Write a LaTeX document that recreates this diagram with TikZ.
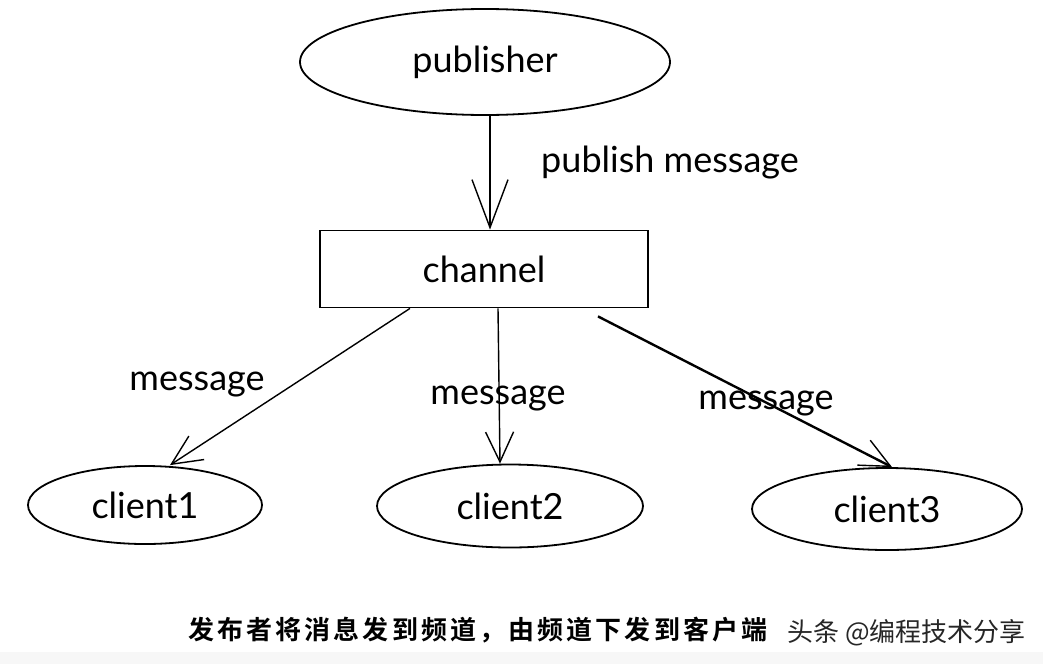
\documentclass[tikz,border=0pt]{standalone}
\usepackage{fontspec}
\setmainfont{Lato}
\newfontfamily\cjk[LetterSpace=12]{Noto Sans CJK SC Bold}
\newfontfamily\cjkmark{Noto Sans CJK SC}
\usetikzlibrary{arrows.meta,shapes.geometric,calc}
\tikzset{  blob/.style={draw,ellipse,line width=1.8pt,inner sep=0pt},
  box/.style={draw,rectangle,line width=1.8pt,inner sep=0pt},
  lbl/.style={font=\fontsize{36}{40}\selectfont},
  msg/.style={->,line width=1.4pt,>={Straight Barb[length=30pt,width=28pt]}} }
\begin{document}
\begin{tikzpicture}[x=1pt,y=-1pt]
   \useasboundingbox (0,0) rectangle (1043,664);
   \fill[gray!6] (0,652) rectangle (1043,664);
   \node[blob,lbl,minimum width=370pt,minimum height=106pt] (pub) at (485,62) {publisher};
   \node[box,lbl,minimum width=328pt,minimum height=77pt] (chan) at (484,269) {channel};
   \node[blob,lbl,minimum width=234pt,minimum height=78pt] (cA) at (145,505) {client1};
   \node[blob,lbl,minimum width=266pt,minimum height=83pt] (cB) at (510,506) {client2};
   \node[blob,lbl,minimum width=270pt,minimum height=82pt] (cC) at (887,509) {client3};
   \node[lbl] (pubmsg) at (670,163) {publish message};
   \node[lbl] (msgA) at (197,384) {message};
   \node[lbl] (msgB) at (498,398) {message};
   \node[lbl] (msgC) at (766,403) {message};
   \draw[msg,line width=2pt,>={Straight Barb[length=48pt,width=36pt,line width=1.4pt]}] ($(pub.south)+(5,0)$) -- ($(chan.north)+(6,0)$);
   \draw[msg] ($(chan.south)+(-74,0)$) -- ($(cA.north)+(25,0)$);
   \draw[msg] ($(chan.south)+(14,0)$) -- ($(cB.north)+(-10,0)$);
   \draw[msg,line width=2.4pt,>={Straight Barb[length=30pt,width=28pt,line width=1.4pt]}] ($(chan.south)+(114,8)$) -- ($(cC.north)+(5,0)$);
   \node[font=\cjk\fontsize{26}{30}\selectfont,anchor=west,inner sep=0pt] (note) at (188,630) {发布者将消息发到频道，由频道下发到客户端};
   \node[font=\cjkmark\fontsize{26}{30}\selectfont,text=black!85,anchor=east,inner sep=0pt] (mark) at (1026,633) {头条 @编程技术分享};
\end{tikzpicture}
\end{document}
